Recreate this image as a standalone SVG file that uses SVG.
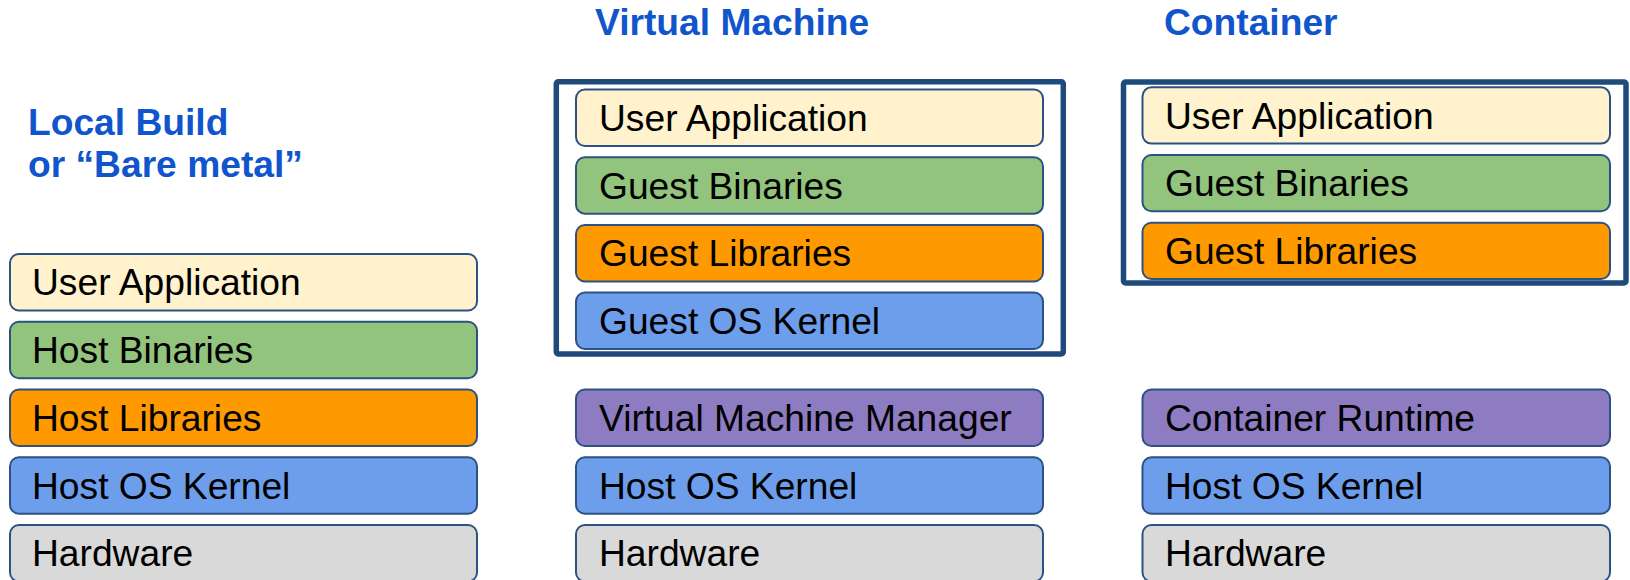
<svg xmlns="http://www.w3.org/2000/svg" width="1630" height="580" viewBox="0 0 1630 580">
<style>
.title{font-family:"Liberation Sans",Arial,sans-serif;font-weight:bold;font-size:37.2px;fill:#1155CC}
.lbl{font-family:"Liberation Sans",Arial,sans-serif;font-size:37.2px;fill:#000}
.box{stroke:#2E5183;stroke-width:2}
.frame{fill:none;stroke:#1F4A7C;stroke-width:5.5}
.ua{fill:#FFF2CC}.bin{fill:#93C47D}.lib{fill:#FF9900}.os{fill:#6D9EEB}.hw{fill:#D9D9D9}.mgr{fill:#8E7CC3}
</style>
<rect width="1630" height="580" fill="#FFFFFF"/>
<g id="titles">
<text class="title" x="595" y="35">Virtual Machine</text>
<text class="title" x="1164" y="35">Container</text>
<text class="title" x="28" y="135">Local Build</text>
<text class="title" x="28" y="177">or “Bare metal”</text>
</g>
<g id="connectors"></g>
<g id="bare-metal">
<g id="bm-ua"><rect class="box ua" x="10" y="254" width="467" height="56.5" rx="9"/><text class="lbl" x="32" y="295.3">User Application</text></g>
<g id="bm-bin"><rect class="box bin" x="10" y="321.75" width="467" height="56.5" rx="9"/><text class="lbl" x="32" y="363">Host Binaries</text></g>
<g id="bm-lib"><rect class="box lib" x="10" y="389.5" width="467" height="56.5" rx="9"/><text class="lbl" x="32" y="430.8">Host Libraries</text></g>
<g id="bm-os"><rect class="box os" x="10" y="457.25" width="467" height="56.5" rx="9"/><text class="lbl" x="32" y="498.5">Host OS Kernel</text></g>
<g id="bm-hw"><rect class="box hw" x="10" y="525" width="467" height="56.5" rx="9"/><text class="lbl" x="32" y="566.3">Hardware</text></g>
</g>
<g id="vm">
<g id="vm-frame"><rect class="frame" x="556.3" y="81.8" width="507" height="272.2" rx="2"/></g>
<g id="vm-ua"><rect class="box ua" x="576" y="89.5" width="467" height="56.5" rx="9"/><text class="lbl" x="599" y="130.8">User Application</text></g>
<g id="vm-bin"><rect class="box bin" x="576" y="157.2" width="467" height="56.5" rx="9"/><text class="lbl" x="599" y="198.5">Guest Binaries</text></g>
<g id="vm-lib"><rect class="box lib" x="576" y="225" width="467" height="56.5" rx="9"/><text class="lbl" x="599" y="266.3">Guest Libraries</text></g>
<g id="vm-gos"><rect class="box os" x="576" y="292.5" width="467" height="56.5" rx="9"/><text class="lbl" x="599" y="333.8">Guest OS Kernel</text></g>
<g id="vm-mgr"><rect class="box mgr" x="576" y="389.5" width="467" height="56.5" rx="9"/><text class="lbl" x="599" y="430.8">Virtual Machine Manager</text></g>
<g id="vm-os"><rect class="box os" x="576" y="457.25" width="467" height="56.5" rx="9"/><text class="lbl" x="599" y="498.5">Host OS Kernel</text></g>
<g id="vm-hw"><rect class="box hw" x="576" y="525" width="467" height="56.5" rx="9"/><text class="lbl" x="599" y="566.3">Hardware</text></g>
</g>
<g id="container">
<g id="ct-frame"><rect class="frame" x="1123.5" y="82" width="502.5" height="201" rx="2"/></g>
<g id="ct-ua"><rect class="box ua" x="1142.5" y="87.3" width="467.5" height="56.3" rx="9"/><text class="lbl" x="1165" y="128.5">User Application</text></g>
<g id="ct-bin"><rect class="box bin" x="1142.5" y="155" width="467.5" height="56.3" rx="9"/><text class="lbl" x="1165" y="196.2">Guest Binaries</text></g>
<g id="ct-lib"><rect class="box lib" x="1142.5" y="222.7" width="467.5" height="56.3" rx="9"/><text class="lbl" x="1165" y="263.9">Guest Libraries</text></g>
<g id="ct-rt"><rect class="box mgr" x="1142.5" y="389.5" width="467.5" height="56.5" rx="9"/><text class="lbl" x="1165" y="430.8">Container Runtime</text></g>
<g id="ct-os"><rect class="box os" x="1142.5" y="457.25" width="467.5" height="56.5" rx="9"/><text class="lbl" x="1165" y="498.5">Host OS Kernel</text></g>
<g id="ct-hw"><rect class="box hw" x="1142.5" y="525" width="467.5" height="56.5" rx="9"/><text class="lbl" x="1165" y="566.3">Hardware</text></g>
</g>
</svg>
